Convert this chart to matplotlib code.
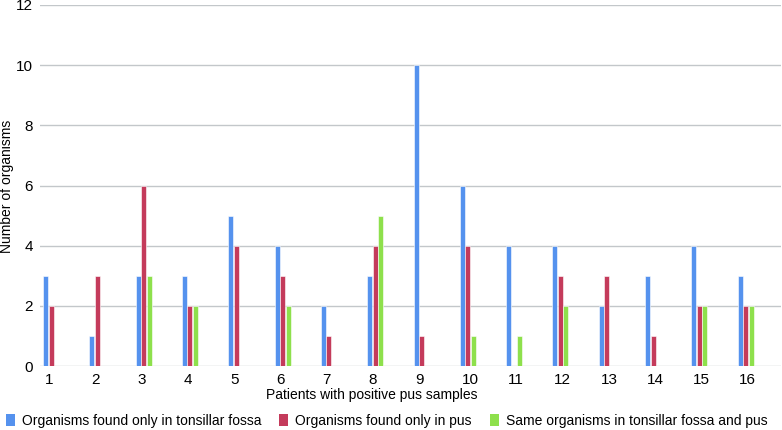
import matplotlib.pyplot as plt
import numpy as np
from matplotlib.patches import Patch

plt.rcParams['font.family'] = ['Liberation Sans', 'DejaVu Sans']

# DATOS
pacientes = [str(i) for i in range(1, 17)]
solo_fosa = [3, 1, 3, 3, 5, 4, 2, 3, 10, 6, 4, 4, 2, 3, 4, 3]
solo_pus = [2, 3, 6, 2, 4, 3, 1, 4, 1, 4, 0, 3, 3, 1, 2, 2]
ambos = [0, 0, 3, 2, 0, 2, 0, 5, 0, 1, 1, 2, 0, 0, 2, 2]

series = ['Organisms found only in tonsillar fossa',
          'Organisms found only in pus',
          'Same organisms in tonsillar fossa and pus']
colores = ['#5592ee', '#c43b5b', '#8ee04c']

fig = plt.figure(figsize=(7.82, 4.30), dpi=100)
ax = fig.add_axes([40/782, 1 - 366/430, 741/782, 361/430])

x = np.arange(len(pacientes))
ancho = 0.108
desp = [0.119, 0.238, 0.357]
for vals, col, d in zip([solo_fosa, solo_pus, ambos], colores, desp):
    ax.bar(x + d, vals, width=ancho, color=col, edgecolor='white', linewidth=0.4, zorder=3)

ax.set_xlim(0, 16)
ax.set_ylim(0, 12)
ax.set_yticks(range(0, 13, 2))
ax.grid(axis='y', color='#c3c7ca', linewidth=1, zorder=0)
ax.set_axisbelow(True)
for s in ax.spines.values():
    s.set_visible(False)
ax.tick_params(axis='both', length=0, labelsize=11, colors='black')
ax.tick_params(axis='y', pad=5)

ax.set_xticks(x + 0.10)
ax.set_xticklabels(pacientes, ha='left')
ax.tick_params(axis='x', pad=5)

# etiquetas de ejes
fig.text(372/782, 1 - 395/430, 'Patients with positive pus samples', fontsize=10,
         ha='center', va='center')
fig.text(7/782, 1 - 186/430, 'Number of organisms', rotation=90, fontsize=10,
         ha='center', va='center')

handles = [Patch(facecolor=c, edgecolor='none') for c in colores]
fig.legend(handles, series, loc='center left', bbox_to_anchor=(0.0, 1 - 421/430),
           ncol=3, frameon=False, fontsize=10, handlelength=0.65, handleheight=0.9,
           handletextpad=0.5, columnspacing=1.3, borderaxespad=0)

fig.savefig('out.png', dpi=100)
